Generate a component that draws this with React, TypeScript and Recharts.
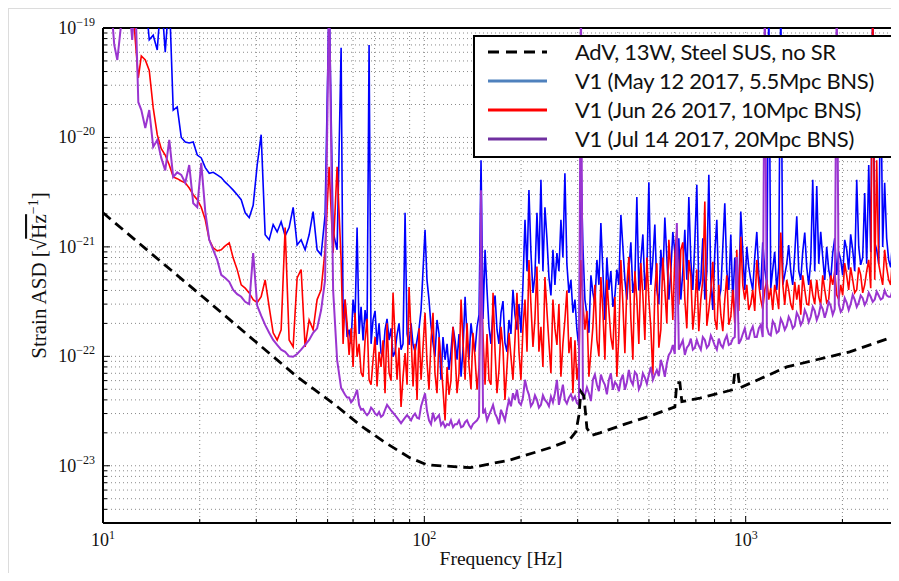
import {
  LineChart,
  Line,
  XAxis,
  YAxis,
  CartesianGrid,
  ReferenceLine,
  Legend,
} from "recharts";

// Frequency bins (Hz) for the three V1 spectra
const freqHz = [
  10, 10.54, 10.84, 11.08, 11.32, 11.65, 11.99, 12.33, 12.6, 12.88,
  13.16, 13.54, 13.93, 14.33, 14.75, 15.18, 15.62, 16.08, 16.54, 17.02,
  17.52, 18.03, 18.55, 19.09, 19.65, 20.22, 20.81, 21.41, 22.03, 22.67,
  23.33, 24.01, 24.71, 25.42, 26.16, 26.92, 27.7, 28.51, 29.33, 30.19,
  31.06, 31.96, 32.89, 33.85, 34.83, 35.84, 36.88, 37.95, 39.06, 40.19,
  41.36, 42.56, 43.8, 45.07, 46.38, 47.73, 49.11, 50.54, 52.01, 53.52,
  55.08, 56.67, 58.32, 60.01, 61.76, 63.55, 65.4, 67.3, 69.25, 71.26,
  73.33, 75.46, 77.66, 79.91, 82.23, 84.62, 87.1, 89.62, 92.23, 94.91,
  97.68,
  100.5, 103.4, 106.4, 109.5, 112.7, 116, 119.3, 122.8, 126.4, 130.1,
  133.9, 137.7, 141.7, 145.9, 150.1, 154.5, 158.9, 163.6, 168.3, 173.2,
  178.2, 183.4, 188.7, 194.2, 199.8, 205.7, 211.6, 217.8, 224.1, 230.6,
  237.3, 244.2, 251.3, 258.6, 266.1, 273.8, 281.8, 290, 298.4, 307.1,
  316, 325.2, 334.6, 344.4, 354.3, 364.7, 375.2, 386.2, 397.4, 408.9,
  420.8, 433, 445.6, 458.5, 471.9, 485.6, 499.7, 514.2, 529.1, 544.5,
  560.3, 576.6, 593.3, 610.6, 628.3, 646.6, 665.4, 684.7, 704.6, 725.1,
  746.2, 767.9, 790.2, 813.2, 836.8, 861, 886.1, 911.9, 938.3, 965.6,
  993.6, 1022, 1052, 1083, 1114, 1147, 1180, 1214, 1249, 1286,
  1323, 1361, 1401, 1442, 1484, 1527, 1571, 1617, 1664, 1712,
  1762, 1813, 1866, 1920, 1976, 2033, 2092, 2153, 2216, 2280,
  2346, 2415, 2485, 2557, 2631, 2707, 2786, 2867, 2950, 3000,
];

// V1, May 12 2017 (strain ASD, 1/sqrt(Hz)); 2e-19 = off the top of the plot
const may12 = [
  2e-19, 2e-19, 2e-19, 2e-19, 2e-19, 2e-19, 2e-19, 2e-19, 2e-19, 2e-19,
  2e-19, 2e-19, 7.8e-20, 8.6e-20, 6.3e-20, 2e-19, 6.0e-20, 2e-19, 1.78e-20, 1.9e-20,
  1.0e-20, 9.1e-21, 8.9e-21, 9.1e-21, 6.9e-21, 6.5e-21, 5.3e-21, 4.7e-21, 4.8e-21, 4.55e-21,
  4.3e-21, 3.9e-21, 3.6e-21, 3.3e-21, 3.0e-21, 2.7e-21, 2.05e-21, 1.85e-21, 2.4e-21, 5.6e-21,
  1.06e-20, 1.29e-21, 1.16e-21, 1.6e-21, 1.37e-21, 1.7e-21, 1.26e-21, 1.5e-21, 2.3e-21, 1.04e-21,
  1.16e-21, 9.4e-22, 1.29e-21, 2.1e-21, 9.4e-22, 8.45e-22, 1.96e-21, 2e-19, 1.37e-21, 9.4e-22,
  6.6e-20, 3.3e-22, 1.75e-22, 3.3e-22, 1.5e-21, 2.83e-22, 2.65e-22, 7.0e-20, 2.15e-22, 1.27e-22,
  1.07e-22, 1.75e-22, 1.41e-22, 9.9e-23, 1.57e-22, 1.15e-22, 2.05e-21, 1.27e-22, 1.27e-22, 1.41e-22,
  2.65e-22,
  1.43e-21, 3.3e-22, 1.33e-22, 2.15e-22, 6.1e-23, 9.3e-23, 7.5e-23, 1.86e-22, 9.3e-23, 6.5e-23,
  3.5e-22, 9.3e-23, 1.41e-22, 1.86e-22, 6.2e-21, 9.4e-22, 1.86e-22, 2.65e-22, 1.75e-22, 2.5e-22,
  1.33e-22, 2.15e-22, 4.05e-22, 1.75e-22, 1.64e-22, 1.77e-21, 3.3e-21, 3.8e-22, 2.05e-21, 4.1e-21,
  2.3e-21, 5.3e-22, 9.4e-22, 8.8e-22, 1.77e-21, 4.7e-21, 3.8e-22, 2.5e-22, 1.75e-22, 6.2e-21,
  3.3e-22, 1.64e-22, 3.8e-22, 7.6e-22, 1.65e-21, 2.15e-22, 4.05e-22, 2.83e-22, 6.2e-22, 1.96e-21,
  5.0e-22, 6.2e-22, 3.8e-22, 2.85e-21, 7.6e-22, 4.05e-22, 3.9e-21, 7.6e-22, 4.05e-22, 9.4e-22,
  1.85e-21, 3.3e-22, 1.37e-21, 5.0e-22, 3.3e-22, 1.43e-21, 2.85e-21, 4.05e-22, 3.7e-21, 5.0e-22,
  3.3e-22, 4.55e-21, 2.65e-22, 1.77e-21, 4.05e-22, 2.5e-21, 4.05e-22, 3.1e-22, 5.0e-22, 2.1e-21,
  4.05e-22, 6.6e-22, 4.05e-22, 1.37e-21, 4.05e-22, 6.2e-22, 2e-19, 6.2e-22, 4.05e-22, 2e-19,
  5.55e-22, 1.04e-21, 4.5e-22, 1.9e-21, 5.0e-22, 1.35e-21, 4.5e-22, 4.1e-21, 3.6e-21, 1.37e-21,
  5.0e-22, 6.2e-22, 8.8e-22, 5.55e-22, 7.6e-22, 1.16e-21, 6.2e-22, 9.4e-22, 4.1e-21, 6.85e-22,
  3.1e-21, 5.6e-21, 2e-19, 9.4e-22, 5.1e-20, 3.85e-21, 7.6e-22, 1.16e-21, 1.24e-21, 7.6e-22,
];

// V1, Jun 26 2017
const jun26 = [
  2e-19, 2e-19, 2e-19, 2e-19, 2e-19, 2e-19, 2e-19, 2e-19, 7.8e-20, 3.5e-20,
  5.55e-20, 5.1e-20, 4.1e-20, 1.86e-20, 1.06e-20, 7.9e-21, 6.9e-21, 5.6e-21, 4.35e-21, 4.2e-21,
  4.0e-21, 3.85e-21, 3.45e-21, 3.0e-21, 2.7e-21, 2.3e-21, 1.77e-21, 1.16e-21, 9.8e-22, 9.2e-22,
  9.4e-22, 1.02e-21, 1.09e-21, 7.9e-22, 6.2e-22, 4.5e-22, 4.2e-22, 3.8e-22, 3.3e-22, 3.1e-22,
  3.5e-22, 5.0e-22, 2.83e-22, 1.64e-22, 1.41e-22, 1.75e-22, 1.5e-21, 1.41e-22, 1.22e-22, 5.2e-22,
  6.2e-22, 1.22e-22, 2.15e-22, 1.75e-22, 3.3e-22, 4.05e-22, 9.4e-22, 5.4e-21, 8.8e-22, 5.4e-21,
  7.6e-22, 3.3e-22, 1.03e-22, 8.0e-23, 9.9e-23, 7.1e-23, 1.41e-22, 6.1e-23, 9.3e-23, 5.3e-23,
  8.0e-23, 4.6e-23, 7.1e-23, 3.8e-22, 6.1e-23, 3.45e-23, 1.07e-22, 4.3e-22, 5.3e-23, 4.0e-23,
  6.1e-23,
  2.5e-22, 4.95e-23, 2.5e-22, 4.6e-23, 9.3e-23, 2.6e-23, 4.45e-23, 1.86e-22, 4.6e-23, 3.3e-22,
  6.1e-23, 8.35e-23, 1.64e-22, 4.95e-23, 5.8e-22, 5.5e-23, 6.1e-23, 3.8e-22, 4.6e-23, 1.86e-22,
  4.0e-23, 1.64e-22, 6.1e-23, 3.8e-22, 6.1e-23, 3.3e-22, 7.6e-22, 1.22e-22, 6.6e-22, 1.86e-22,
  5.3e-22, 1.33e-22, 3.3e-22, 1.27e-22, 6.5e-23, 2.15e-22, 1.07e-22, 4.6e-23, 6.1e-23, 7.6e-22,
  1.75e-22, 6.5e-23, 1.86e-22, 1.41e-22, 5.3e-22, 9.3e-23, 2.65e-22, 1.15e-22, 6.5e-23, 7.6e-22,
  1.07e-22, 8.1e-22, 9.3e-23, 3.3e-22, 7.1e-22, 1.41e-22, 3.3e-22, 6.8e-23, 7.1e-22, 1.75e-22,
  4.05e-22, 1.16e-21, 2.15e-22, 1.43e-21, 9.4e-22, 3.3e-22, 7.6e-22, 1.75e-22, 6.2e-22, 3.3e-22,
  2.6e-21, 2.65e-22, 7.3e-22, 1.75e-22, 2.4e-22, 3.3e-22, 1.94e-22, 4.05e-22, 9.4e-22, 1.24e-21,
  3.3e-22, 2.65e-22, 4.05e-22, 7.6e-22, 3.3e-22, 4.05e-22, 3.3e-22, 2.65e-22, 3.65e-22, 1.35e-21,
  2.95e-22, 4.05e-22, 2.65e-22, 3.3e-22, 2.4e-22, 4.05e-22, 2.95e-22, 3.65e-22, 5.0e-22, 2.95e-22,
  4.05e-22, 3.3e-22, 4.5e-22, 3.65e-22, 4.5e-22, 7.1e-22, 4.05e-22, 5.0e-22, 4.05e-22, 5.55e-22,
  4.5e-22, 7.6e-22, 2e-19, 6.2e-21, 5.55e-22, 9.4e-22, 5.0e-22, 8.45e-22, 6.2e-22, 4.7e-22,
];

// V1, Jul 14 2017
const jul14 = [
  2e-19, 2e-19, 7.0e-20, 5.1e-20, 9.2e-20, 2e-19, 2e-19, 7.8e-20, 2e-19, 2.1e-20,
  1.78e-20, 1.22e-20, 1.78e-20, 8.2e-21, 9.5e-21, 6.5e-21, 5.0e-21, 9.5e-21, 4.35e-21, 4.8e-21,
  4.55e-21, 3.85e-21, 5.6e-21, 2.5e-21, 2.3e-21, 5.85e-21, 2.1e-21, 1.16e-21, 9.4e-22, 7.6e-22,
  5.55e-22, 5.2e-22, 4.8e-22, 4.05e-22, 3.7e-22, 3.5e-22, 3.15e-22, 3.0e-22, 8.8e-22, 2.9e-22,
  2.35e-22, 1.94e-22, 1.64e-22, 1.41e-22, 1.27e-22, 1.15e-22, 1.1e-22, 1.0e-22, 9.9e-23, 1.05e-22,
  1.15e-22, 1.27e-22, 1.41e-22, 1.64e-22, 1.8e-22, 2.65e-22, 5.0e-22, 2e-19, 4.05e-22, 9.3e-23,
  5.15e-23, 4.45e-23, 4.2e-23, 4.0e-23, 4.95e-23, 3.25e-23, 3.05e-23, 3.05e-23, 3.25e-23, 2.9e-23,
  2.8e-23, 3.25e-23, 3.4e-23, 3.05e-23, 2.75e-23, 2.45e-23, 2.75e-23, 2.75e-23, 2.85e-23, 2.75e-23,
  3.5e-23,
  4.6e-23, 2.6e-23, 3.05e-23, 2.75e-23, 2.35e-23, 2.25e-23, 2.35e-23, 2.25e-23, 2.4e-23, 2.25e-23,
  2.5e-23, 2.35e-23, 2.4e-23, 2.6e-23, 3.3e-21, 3.25e-23, 2.9e-23, 3.6e-23, 2.75e-23, 3.25e-23,
  2.6e-23, 4.0e-23, 4.6e-23, 4.95e-23, 3.6e-23, 6.1e-23, 4.45e-23, 3.75e-23, 4.0e-23, 3.6e-23,
  4.0e-23, 3.5e-23, 3.8e-23, 6.1e-23, 4.45e-23, 4.0e-23, 4.2e-23, 4.0e-23, 3.75e-23, 2e-19,
  4.45e-23, 4.6e-23, 6.1e-23, 5.5e-23, 6.8e-23, 5.5e-23, 6.1e-23, 4.95e-23, 5.5e-23, 6.1e-23,
  4.95e-23, 7.5e-23, 5.5e-23, 6.8e-23, 5.5e-23, 6.4e-23, 6.8e-23, 6.1e-23, 7.5e-23, 9.3e-23,
  6.5e-23, 1.03e-22, 1.27e-22, 1.65e-21, 1.27e-22, 1.03e-22, 1.27e-22, 1.15e-22, 1.41e-22, 1.15e-22,
  1.41e-22, 1.27e-22, 1.41e-22, 1.15e-22, 1.27e-22, 1.41e-22, 1.27e-22, 1.45e-22, 8.1e-22, 1.41e-22,
  1.8e-22, 1.45e-22, 1.87e-22, 1.5e-22, 1.94e-22, 2e-19, 1.6e-22, 2.1e-22, 1.64e-22, 2.2e-22,
  1.75e-22, 2.3e-22, 1.8e-22, 2.5e-22, 1.94e-22, 2.65e-22, 2.05e-22, 2.83e-22, 2.15e-22, 2.95e-22,
  2.25e-22, 3.15e-22, 2.4e-22, 2e-19, 2.55e-22, 3.4e-22, 2.65e-22, 3.65e-22, 2.83e-22, 3.6e-22,
  2.95e-22, 3.8e-22, 3.15e-22, 3.9e-22, 3.3e-22, 4.0e-22, 3.5e-22, 4.1e-22, 3.65e-22, 3.8e-22,
];

// Extra bins between the ones above, where the spectra are densest
const freqHzFine = [
  55.87, 57.49, 59.16, 60.87, 62.65, 64.47, 66.34, 68.27, 70.25, 72.29,
  74.39, 76.55, 78.78, 81.06, 83.41, 85.84, 88.36, 90.91, 93.56, 96.28,
  101.9, 104.9, 107.9, 111.1, 114.3, 117.7, 121, 124.6, 128.2, 132,
  135.8, 139.7, 143.7, 148, 152.3, 156.7, 161.2, 166, 170.7, 175.7,
  180.8, 186, 191.4, 197, 202.7, 208.7, 214.6, 220.9, 227.3, 233.9,
  240.7, 247.7, 254.9, 262.3, 269.9, 277.7, 285.9, 294.2, 302.7, 311.5,
  320.6, 329.9, 339.4, 349.4, 359.4, 369.9, 380.6, 391.8, 403.1, 414.8,
  426.9, 439.2, 452, 465.1, 478.7, 492.6, 506.9, 521.6, 536.7, 552.3,
  568.4, 584.9, 601.8, 619.4, 637.4, 655.9, 675, 694.6, 714.7, 735.5,
  757, 779, 801.6, 824.9, 848.9, 873.4, 898.9, 925, 951.8, 979.5,
  1008, 1037, 1067, 1099, 1130, 1164, 1197, 1231, 1267, 1305,
  1342, 1381, 1421, 1463, 1505, 1549, 1594, 1640, 1688, 1737,
  1787, 1839, 1893, 1948, 2004, 2062, 2122, 2184, 2248, 2313,
  2380, 2450, 2521, 2594, 2669, 2746, 2826, 2908,
];
const may12Fine = [
  2.2e-22, 1.5e-22, 1.3e-22, 2.2e-22, 1.6e-22, 1.4e-22, 1.8e-22, 1.3e-22, 2.6e-22, 2.0e-22,
  1.0e-22, 2.2e-22, 1.8e-22, 1.1e-22, 2.0e-22, 1.3e-22, 1.6e-22, 2.0e-22, 1.1e-22, 1.8e-22,
  5.0e-22, 1.9e-22, 1.0e-22, 1.6e-22, 1.5e-22, 1.3e-22, 1.1e-22, 1.4e-22, 1.6e-22, 1.2e-22,
  1.5e-22, 2.0e-22, 1.1e-22, 2.4e-22, 2.2e-22, 4.0e-22, 1.3e-22, 3.6e-22, 1.3e-22, 3.2e-22,
  1.1e-22, 1.6e-22, 2.4e-22, 3.0e-22, 4.5e-22, 6.0e-22, 9.0e-22, 5.5e-22, 7.0e-22, 6.0e-22,
  1.2e-21, 3.6e-22, 4.5e-22, 6.0e-22, 8.0e-22, 7.0e-22, 5.0e-22, 3.3e-22, 1.2e-22, 1.0e-21,
  2.4e-22, 5.5e-22, 3.0e-22, 4.5e-22, 6.0e-22, 8.0e-22, 6.0e-22, 3.6e-22, 4.5e-22, 1.0e-21,
  3.3e-22, 1.1e-21, 5.0e-22, 4.0e-22, 1.3e-21, 6.0e-22, 4.5e-22, 1.6e-21, 3.0e-22, 5.0e-22,
  8.0e-22, 6.0e-22, 9.0e-22, 1.2e-21, 6.0e-22, 5.0e-22, 7.5e-22, 1.1e-21, 4.0e-22, 1.2e-21,
  6.0e-22, 5.0e-22, 9.0e-22, 3.3e-22, 1.0e-21, 6.0e-22, 1.3e-21, 8.0e-22, 4.0e-22, 9.0e-22,
  1.0e-21, 5.0e-22, 8.0e-22, 5.5e-22, 1.1e-21, 4.5e-22, 4.2e-22, 9.0e-22, 6.5e-22, 4.5e-22,
  7.0e-22, 6.0e-22, 8.5e-22, 6.0e-22, 9.0e-22, 6.5e-22, 7.5e-22, 6.0e-22, 7.0e-22, 8.0e-22,
  1.0e-21, 5.0e-22, 1.2e-21, 9.0e-22, 5.5e-22, 9.5e-22, 1.3e-21, 6.0e-22, 1.0e-21, 8.0e-22,
  7.0e-22, 9.0e-22, 1.1e-21, 7.0e-22, 1.0e-21, 1.2e-21, 6.5e-22, 8.0e-22,
];
const jun26Fine = [
  1.3e-22, 2.0e-22, 1.8e-22, 2.5e-22, 1.3e-22, 6.5e-23, 2.2e-22, 5.5e-23, 1.5e-22, 1.1e-22,
  1.4e-22, 2.0e-22, 6.0e-23, 1.5e-22, 1.2e-22, 6.5e-23, 5.5e-23, 1.6e-22, 1.3e-22, 1.8e-22,
  9.0e-23, 1.4e-22, 7.0e-23, 1.5e-22, 5.0e-23, 8.0e-23, 6.0e-23, 1.1e-22, 7.0e-23, 1.3e-22,
  2.0e-22, 5.0e-23, 1.0e-22, 8.0e-23, 1.5e-22, 1.6e-22, 5.5e-23, 1.1e-22, 7.5e-23, 1.2e-22,
  8.0e-23, 1.0e-22, 1.4e-22, 1.1e-22, 1.8e-22, 1.1e-22, 3.0e-22, 2.2e-22, 1.1e-22, 8.0e-23,
  2.6e-22, 7.0e-23, 1.8e-22, 3.0e-22, 1.3e-22, 4.0e-22, 1.5e-22, 1.4e-22, 9.0e-23, 3.0e-22,
  2.6e-22, 1.1e-22, 4.5e-22, 1.0e-22, 2.6e-22, 5.0e-22, 1.5e-22, 3.5e-22, 1.6e-22, 3.0e-22,
  4.5e-22, 2.2e-22, 6.0e-22, 1.3e-22, 3.6e-22, 8.0e-22, 1.8e-22, 4.0e-22, 1.2e-22, 8.0e-22,
  2.0e-22, 6.0e-22, 8.0e-22, 3.0e-22, 1.1e-21, 1.8e-22, 5.5e-22, 2.8e-22, 1.7e-22, 5.0e-22,
  1.9e-22, 4.0e-22, 2.2e-22, 4.5e-22, 1.7e-22, 5.5e-22, 2.3e-22, 2.0e-22, 2.6e-22, 4.5e-22,
  4.5e-22, 3.0e-22, 2.6e-22, 4.5e-22, 2.7e-22, 5.0e-22, 4.2e-22, 4.5e-22, 2.7e-22, 4.5e-22,
  5.0e-22, 3.0e-22, 4.8e-22, 4.5e-22, 5.5e-22, 3.0e-22, 5.0e-22, 3.0e-22, 3.5e-22, 5.5e-22,
  3.1e-22, 5.5e-22, 6.0e-22, 3.3e-22, 3.6e-22, 5.5e-22, 6.5e-22, 3.8e-22, 6.5e-22, 3.8e-22,
  6.0e-22, 4.2e-22, 5.0e-22, 7.0e-22, 4.5e-22, 6.5e-22, 4.5e-22, 5.0e-22,
];
const jul14Fine = [
  4.8e-23, 4.2e-23, 3.8e-23, 4.4e-23, 3.6e-23, 3.3e-23, 2.9e-23, 3.4e-23, 3.0e-23, 3.1e-23,
  2.9e-23, 3.6e-23, 3.2e-23, 2.9e-23, 2.6e-23, 2.6e-23, 2.9e-23, 2.6e-23, 3.0e-23, 2.7e-23,
  3.2e-23, 2.4e-23, 2.6e-23, 2.9e-23, 2.5e-23, 2.4e-23, 2.6e-23, 2.4e-23, 2.6e-23, 2.3e-23,
  2.6e-23, 2.2e-23, 2.5e-23, 2.8e-23, 3.0e-23, 2.6e-23, 3.2e-23, 3.0e-23, 2.4e-23, 2.9e-23,
  3.3e-23, 3.5e-23, 4.0e-23, 3.8e-23, 4.2e-23, 5.0e-23, 3.5e-23, 4.4e-23, 3.4e-23, 4.4e-23,
  3.8e-23, 4.3e-23, 4.6e-23, 3.6e-23, 5.5e-23, 3.7e-23, 4.5e-23, 4.3e-23, 3.6e-23, 4.2e-23,
  5.2e-23, 3.9e-23, 6.8e-23, 4.8e-23, 6.0e-23, 4.5e-23, 7.0e-23, 5.8e-23, 4.8e-23, 6.8e-23,
  5.8e-23, 6.0e-23, 7.2e-23, 5.0e-23, 7.0e-23, 5.6e-23, 8.0e-23, 6.8e-23, 6.6e-23, 8.0e-23,
  8.6e-23, 1.1e-22, 1.05e-22, 1.15e-22, 1.4e-22, 1.2e-22, 1.45e-22, 1.2e-22, 1.25e-22, 1.5e-22,
  1.2e-22, 1.55e-22, 1.25e-22, 1.45e-22, 1.2e-22, 1.55e-22, 1.3e-22, 1.5e-22, 1.3e-22, 1.6e-22,
  1.45e-22, 1.7e-22, 1.5e-22, 1.8e-22, 1.5e-22, 1.85e-22, 1.55e-22, 1.95e-22, 1.7e-22, 2.0e-22,
  1.9e-22, 2.1e-22, 1.9e-22, 2.3e-22, 2.1e-22, 2.4e-22, 2.3e-22, 2.6e-22, 2.4e-22, 2.7e-22,
  2.6e-22, 2.9e-22, 2.7e-22, 3.0e-22, 2.7e-22, 3.1e-22, 3.0e-22, 3.3e-22, 3.1e-22, 3.4e-22,
  3.2e-22, 3.5e-22, 3.3e-22, 3.6e-22, 3.4e-22, 3.6e-22, 3.5e-22, 3.7e-22,
];

// AdV design curve (13 W, steel suspensions, no signal recycling)
const advFreqHz = [
  10, 14, 20.1, 28.7, 40.2, 52.8, 63.1, 75.5, 90.3, 102,
  139, 185, 246, 282, 296.3, 302.7, 307.1, 313.8, 320.6, 332.3,
  352, 420.8, 504, 602, 610.6, 624, 633, 721, 911.9, 925,
  945, 959, 1342, 2107, 3000,
];
const advAsd = [
  2.05e-21, 8.9e-22, 3.65e-22, 1.5e-22, 6.5e-23, 3.6e-23, 2.35e-23, 1.63e-23, 1.18e-23, 1.02e-23,
  9.6e-24, 1.13e-23, 1.46e-23, 1.7e-23, 2.05e-23, 2.9e-23, 4.75e-23, 4.35e-23, 2.2e-23, 1.9e-23,
  2.0e-23, 2.4e-23, 2.85e-23, 3.45e-23, 5.75e-23, 5.75e-23, 3.85e-23, 4.15e-23, 4.95e-23, 7.2e-23,
  7.2e-23, 5.15e-23, 8.0e-23, 1.1e-22, 1.57e-22,
];

const xTicks = [
  10, 20, 30, 40, 50, 60, 70, 80, 90,
  100, 200, 300, 400, 500, 600, 700, 800, 900,
  1000, 2000, 3000,
];
const xMajor = [10, 100, 1000];

const yTicks = [
  3e-24, 4e-24, 5e-24, 6e-24, 7e-24, 8e-24, 9e-24,
  1e-23, 2e-23, 3e-23, 4e-23, 5e-23, 6e-23, 7e-23, 8e-23, 9e-23,
  1e-22, 2e-22, 3e-22, 4e-22, 5e-22, 6e-22, 7e-22, 8e-22, 9e-22,
  1e-21, 2e-21, 3e-21, 4e-21, 5e-21, 6e-21, 7e-21, 8e-21, 9e-21,
  1e-20, 2e-20, 3e-20, 4e-20, 5e-20, 6e-20, 7e-20, 8e-20, 9e-20,
  1e-19,
];
const yMajor = [1e-23, 1e-22, 1e-21, 1e-20, 1e-19];

const legendItems = [
  { label: "AdV, 13W, Steel SUS, no SR", color: "#000000", dash: "11 7" },
  { label: "V1 (May 12 2017, 5.5Mpc BNS)", color: "#4f81bd", dash: undefined },
  { label: "V1 (Jun 26 2017, 10Mpc BNS)", color: "#ff0000", dash: undefined },
  { label: "V1 (Jul 14 2017, 20Mpc BNS)", color: "#7030a0", dash: undefined },
];

const SERIF = "'Liberation Serif', 'DejaVu Serif', serif";

const chartData = [
  ...freqHz.map((f, i) => ({ f, may: may12[i], jun: jun26[i], jul: jul14[i] })),
  ...freqHzFine.map((f, i) => ({ f, may: may12Fine[i], jun: jun26Fine[i], jul: jul14Fine[i] })),
].sort((a, b) => a.f - b.f);

const advData = advFreqHz.map((f, i) => ({ f, adv: advAsd[i] }));

function XTick({ x, y, payload }: any) {
  const v = payload.value;
  const major = xMajor.includes(v);
  return (
    <g>
      <line x1={x} x2={x} y1={y - 8} y2={y - 8 - (major ? 7 : 4)} stroke="#000" strokeWidth={1} />
      {major && (
        <text x={x} y={y + 15} textAnchor="middle" fontFamily={SERIF} fontSize={18} fill="#111">
          10
          <tspan dy={-7} fontSize={12}>
            {Math.round(Math.log10(v))}
          </tspan>
        </text>
      )}
    </g>
  );
}

function YTick({ x, y, payload }: any) {
  const v = payload.value;
  const major = yMajor.includes(v);
  return (
    <g>
      <line x1={x + 8} x2={x + 8 + (major ? 7 : 4)} y1={y} y2={y} stroke="#000" strokeWidth={1} />
      {major && (
        <text x={x} y={y + 6} textAnchor="end" fontFamily={SERIF} fontSize={18} fill="#111">
          10
          <tspan dy={-8} fontSize={12}>
            {"\u2212" + Math.abs(Math.round(Math.log10(v)))}
          </tspan>
        </text>
      )}
    </g>
  );
}

function YTitle({ viewBox }: any) {
  const cx = viewBox.x + 43;
  const cy = viewBox.y + viewBox.height / 2;
  return (
    <text
      x={cx}
      y={cy}
      transform={`rotate(-90, ${cx}, ${cy})`}
      textAnchor="middle"
      fontFamily={SERIF}
      fontSize={21}
      fill="#111"
    >
      Strain ASD [<tspan>{"\u221A"}</tspan>
      <tspan style={{ textDecoration: "overline" }}>Hz</tspan>
      <tspan dy={-8} fontSize={14}>
        {"\u22121"}
      </tspan>
      <tspan dy={8}>]</tspan>
    </text>
  );
}

function XTitle({ viewBox }: any) {
  return (
    <text
      x={viewBox.x + viewBox.width / 2}
      y={viewBox.y + 42}
      textAnchor="middle"
      fontFamily={SERIF}
      fontSize={19.5}
      fill="#111"
    >
      Frequency [Hz]
    </text>
  );
}

function LegendBox() {
  return (
    <div
      style={{
        boxSizing: "border-box",
        width: 424,
        height: 123,
        border: "2px solid #000",
        background: "#fff",
      }}
    >
      {legendItems.map((item) => (
        <div key={item.label} style={{ display: "flex", alignItems: "center", height: 29 }}>
          <svg width={100} height={10} style={{ flex: "none" }}>
            <line
              x1={13}
              x2={72}
              y1={5}
              y2={5}
              stroke={item.color}
              strokeWidth={3}
              strokeDasharray={item.dash}
            />
          </svg>
          <span
            style={{
              fontFamily: "Lato, 'Open Sans', sans-serif",
              fontSize: 22,
              letterSpacing: -0.3,
              color: "#111",
              whiteSpace: "nowrap",
            }}
          >
            {item.label}
          </span>
        </div>
      ))}
    </div>
  );
}

export default function App() {
  return (
    <div style={{ position: "relative", width: 899, height: 581, margin: -8, background: "#fff" }}>
      <div
        style={{
          position: "absolute",
          left: 8,
          top: 8,
          width: 891,
          height: 573,
          borderLeft: "1px solid #dcdcdc",
          borderTop: "1px solid #dcdcdc",
        }}
      />
      <LineChart
        width={899}
        height={581}
        data={chartData}
        margin={{ top: 28, right: 0, bottom: 18, left: 3 }}
      >
        <CartesianGrid stroke="#8a8a8a" strokeDasharray="1 3" />
        <XAxis
          dataKey="f"
          type="number"
          scale="log"
          domain={[10, 3000]}
          allowDataOverflow
          ticks={xTicks}
          interval={0}
          height={40}
          tickSize={6}
          tickMargin={2}
          tickLine={false}
          axisLine={{ stroke: "#000", strokeWidth: 2 }}
          tick={<XTick />}
          label={<XTitle />}
        />
        <YAxis
          type="number"
          scale="log"
          domain={[3e-24, 1e-19]}
          allowDataOverflow
          ticks={yTicks}
          interval={0}
          width={100}
          tickSize={6}
          tickMargin={2}
          tickLine={false}
          axisLine={{ stroke: "#000", strokeWidth: 2 }}
          tick={<YTick />}
          label={<YTitle />}
        />
        <ReferenceLine y={1e-19} stroke="#000" strokeWidth={2} />
        <Line
          dataKey="may"
          stroke="#0000ff"
          strokeWidth={1.6}
          dot={false}
          activeDot={false}
          isAnimationActive={false}
        />
        <Line
          dataKey="jun"
          stroke="#ff0000"
          strokeWidth={1.6}
          dot={false}
          activeDot={false}
          isAnimationActive={false}
        />
        <Line
          dataKey="jul"
          stroke="#9a35d0"
          strokeWidth={2}
          dot={false}
          activeDot={false}
          isAnimationActive={false}
        />
        <Line
          data={advData}
          dataKey="adv"
          stroke="#000"
          strokeWidth={2.8}
          strokeDasharray="10 6"
          dot={false}
          activeDot={false}
          isAnimationActive={false}
        />
        <Legend
          layout="horizontal"
          verticalAlign="middle"
          align="center"
          content={<LegendBox />}
          wrapperStyle={{ left: 473, top: 35, width: 424, height: 123 }}
        />
      </LineChart>
    </div>
  );
}
